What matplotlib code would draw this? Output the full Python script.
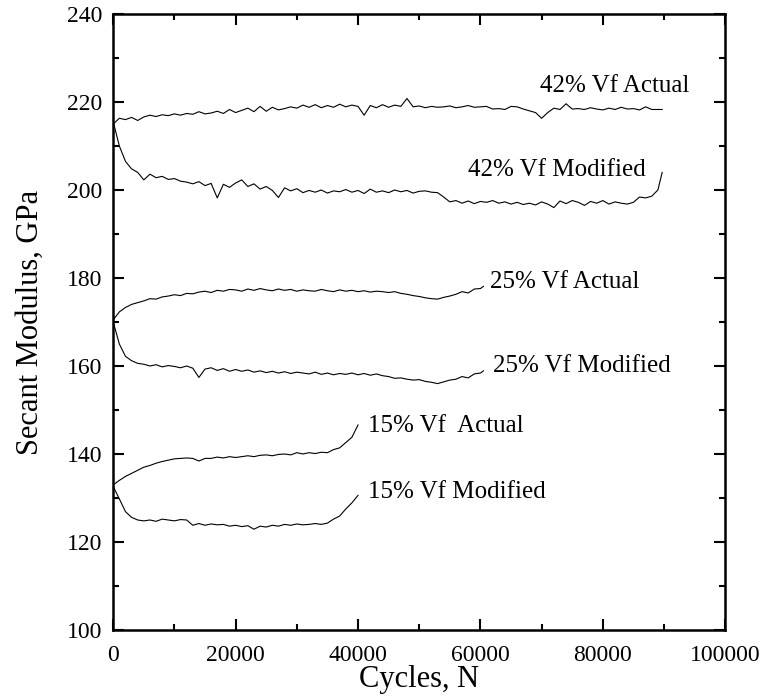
import numpy as np
import matplotlib
matplotlib.use("Agg")
import matplotlib.pyplot as plt
from matplotlib.ticker import MultipleLocator

plt.rcParams['font.family'] = ['Liberation Serif', 'DejaVu Serif']

# cycles sampled every 1000 (plus the last logged point)
x42 = np.append(np.arange(0, 90000, 1000), 89700)
x25 = np.append(np.arange(0, 61000, 1000), 60500)
x15 = np.arange(0, 41000, 1000)

vf42_actual = [215.0, 216.3, 216.0, 216.5, 215.8, 216.6, 217.0, 216.7, 217.1, 216.9,
               217.3, 217.0, 217.4, 217.2, 217.8, 217.3, 217.5, 217.9, 217.4, 218.3,
               217.6, 218.1, 218.6, 217.8, 219.0, 217.9, 218.8, 218.2, 218.5, 218.9,
               218.6, 219.3, 218.8, 219.4, 218.7, 219.2, 218.8, 219.5, 218.9, 219.3,
               219.0, 217.0, 219.2, 218.7, 219.4, 218.8, 219.3, 219.0, 220.8, 218.9,
               219.1, 218.7, 219.0, 218.8, 218.9, 219.1, 218.7, 218.9, 219.2, 218.8,
               218.9, 219.0, 218.4, 218.5, 218.3, 219.0, 218.9, 218.4, 218.0, 217.6,
               216.3, 217.6, 218.6, 218.3, 219.6, 218.4, 218.5, 218.3, 218.7, 218.4,
               218.2, 218.6, 218.3, 218.8, 218.4, 218.5, 218.2, 218.9, 218.3, 218.3,
               218.3]
vf42_modified = [215.5, 210.0, 206.5, 204.8, 204.0, 202.3, 203.6, 202.8, 203.1, 202.4,
                 202.6, 202.0, 201.8, 201.4, 201.9, 201.0, 201.5, 198.2, 201.3, 200.6,
                 201.6, 202.3, 200.8, 201.4, 200.2, 200.8, 199.9, 198.3, 200.5, 199.8,
                 200.3, 199.4, 199.9, 199.5, 200.0, 199.3, 199.8, 199.6, 200.1, 199.5,
                 199.9, 199.2, 200.2, 199.5, 199.8, 199.4, 200.0, 199.6, 199.9, 199.3,
                 199.7, 199.8, 199.5, 199.4, 198.4, 197.3, 197.6, 197.0, 197.5, 196.9,
                 197.4, 197.2, 197.6, 197.0, 197.3, 196.8, 197.2, 196.7, 197.0, 196.6,
                 197.3, 196.8, 196.0, 197.5, 196.9, 197.6, 197.2, 196.5, 197.4, 197.0,
                 197.6, 196.8, 197.3, 197.0, 196.8, 197.2, 198.4, 198.2, 198.6, 200.0,
                 204.0]
vf25_actual = [170.5, 172.3, 173.3, 174.0, 174.4, 174.8, 175.3, 175.2, 175.7, 175.9,
               176.2, 176.0, 176.5, 176.4, 176.8, 177.0, 176.7, 177.2, 177.0, 177.4,
               177.3, 177.0, 177.5, 177.2, 177.6, 177.3, 177.1, 177.5, 177.2, 177.4,
               177.0, 177.3, 177.1, 177.0, 177.4, 177.1, 176.9, 177.3, 177.0, 177.2,
               176.9, 177.1, 176.8, 177.0, 176.9, 176.7, 176.9, 176.5, 176.3, 176.0,
               175.8, 175.5, 175.3, 175.2, 175.6, 175.9, 176.3, 176.9, 176.6, 177.5,
               177.6, 178.1]
vf25_modified = [170.0, 165.0, 162.2, 161.2, 160.6, 160.4, 160.0, 160.3, 159.8, 160.1,
                 159.9, 159.6, 160.0, 159.5, 157.4, 159.3, 159.6, 159.0, 159.4, 158.8,
                 159.2, 158.8, 159.1, 158.6, 158.9, 158.5, 158.8, 158.4, 158.7, 158.3,
                 158.6, 158.4, 158.2, 158.6, 158.1, 158.4, 158.0, 158.3, 158.1, 158.4,
                 158.0, 158.3, 157.9, 158.2, 157.8, 157.6, 157.2, 157.3, 157.0, 156.8,
                 156.9, 156.5, 156.3, 156.0, 156.4, 156.8, 157.0, 157.6, 157.3, 158.2,
                 158.4, 158.9]
vf15_actual = [133.0, 134.0, 134.9, 135.6, 136.3, 137.0, 137.4, 137.9, 138.3, 138.6,
               138.9, 139.0, 139.1, 139.0, 138.4, 139.0, 139.0, 139.3, 139.1, 139.4,
               139.2, 139.4, 139.6, 139.4, 139.7, 139.8, 139.6, 139.9, 140.0, 139.8,
               140.3, 140.0, 140.3, 140.1, 140.4, 140.3, 141.0, 141.4, 142.6, 143.8,
               146.6]
vf15_modified = [132.6, 129.8, 126.9, 125.6, 125.0, 124.8, 125.0, 124.7, 125.2, 125.0,
                 124.8, 125.1, 125.0, 123.8, 124.2, 123.8, 124.1, 123.9, 124.0, 123.6,
                 123.8, 123.5, 123.7, 122.9, 123.6, 123.4, 123.8, 123.6, 124.0, 123.8,
                 124.1, 123.9, 124.0, 124.2, 124.0, 124.3, 125.2, 125.9, 127.5, 128.9,
                 130.6]

fig = plt.figure(figsize=(7.65, 7.0), dpi=100)
ax = fig.add_axes([0.148, 0.10, 0.80, 0.88])

for xs, ys in [(x42, vf42_actual), (x42, vf42_modified),
               (x25, vf25_actual), (x25, vf25_modified),
               (x15, vf15_actual), (x15, vf15_modified)]:
    ax.plot(xs, ys, color='black', lw=0.8)

# curve labels
ax.text(69800, 223.7, '42% Vf Actual', fontsize=18, va='center')
ax.text(58000, 204.6, '42% Vf Modified', fontsize=18, va='center')
ax.text(61600, 179.0, '25% Vf Actual', fontsize=18, va='center')
ax.text(62100, 159.9, '25% Vf Modified', fontsize=18, va='center')
ax.text(41700, 146.3, '15% Vf  Actual', fontsize=18, va='center')
ax.text(41700, 131.3, '15% Vf Modified', fontsize=18, va='center')

ax.set_xlim(0, 100000)
ax.set_ylim(100, 240)
ax.xaxis.set_major_locator(MultipleLocator(20000))
ax.xaxis.set_minor_locator(MultipleLocator(10000))
ax.yaxis.set_major_locator(MultipleLocator(20))
ax.yaxis.set_minor_locator(MultipleLocator(10))
ax.tick_params(which='both', direction='in', top=True, right=True, width=1.5, labelsize=17)
ax.tick_params(which='major', length=8)
ax.tick_params(which='minor', length=4.5)
ax.tick_params(axis='x', which='major', pad=11)
ax.tick_params(axis='y', which='major', pad=8)
for s in ax.spines.values():
    s.set_linewidth(1.8)

ax.set_xlabel('Cycles, N', fontsize=22, labelpad=-1)
ax.set_ylabel('Secant Modulus, GPa', fontsize=22, labelpad=16)

fig.savefig('out.png', dpi=100)
